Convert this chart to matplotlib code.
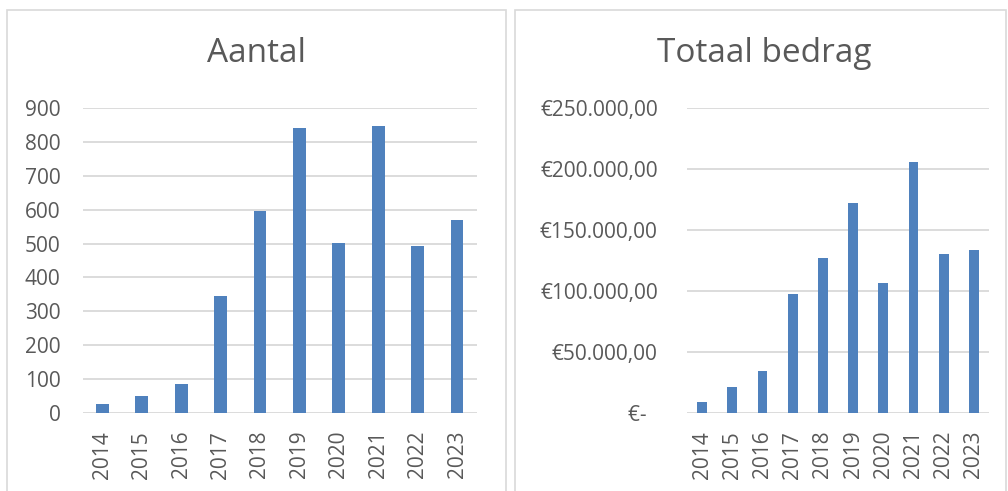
import matplotlib
matplotlib.use("Agg")
import matplotlib.pyplot as plt
from matplotlib.patches import Rectangle
from matplotlib.ticker import FuncFormatter

years = ["2014", "2015", "2016", "2017", "2018", "2019", "2020", "2021", "2022", "2023"]
aantal = [26, 49, 85, 345, 596, 842, 501, 848, 494, 570]
bedrag = [9000, 21100, 34300, 97400, 127200, 172400, 106400, 205900, 130200, 133800]

BLUE = "#4F81BD"
GRID = "#D9D9D9"
TEXT = "#595959"

plt.rcParams['font.family'] = ['Open Sans', 'DejaVu Sans']

W, H = 1008, 491
fig = plt.figure(figsize=(W / 100, H / 100), dpi=100)

def fbox(x0, y0, x1, y1):
    # pixel box -> figure fraction [left, bottom, width, height]
    return [x0 / W, 1 - y1 / H, (x1 - x0) / W, (y1 - y0) / H]

# panel borders
for x0, x1 in [(7, 506), (515, 1006)]:
    fig.patches.append(Rectangle((x0 / W, -0.05), (x1 - x0) / W, 1 - 10 / H + 0.05,
                                 transform=fig.transFigure, fill=False,
                                 edgecolor=GRID, linewidth=1.2))

def euro(v, pos):
    if v == 0:
        return "€-  "
    s = f"{v:,.2f}".replace(",", "X").replace(".", ",").replace("X", ".")
    return "€" + s

def style(ax, ymax, step, pad):
    x = range(len(years))
    ax.set_xlim(-0.5, len(years) - 0.5)
    ax.set_ylim(0, ymax)
    ax.set_yticks(range(0, ymax + 1, step))
    ax.set_xticks(list(x))
    ax.set_xticklabels(years, rotation=90)
    for s in ax.spines.values():
        s.set_visible(False)
    ax.grid(axis="y", color=GRID, linewidth=1.3)
    ax.set_axisbelow(True)
    ax.tick_params(axis="both", length=0, labelcolor=TEXT, labelsize=15)
    ax.tick_params(axis="y", pad=pad)
    ax.tick_params(axis="x", pad=13)

ax1 = fig.add_axes(fbox(82.7, 108.3, 476.7, 412.7))
ax1.bar(range(len(years)), aantal, width=0.32, color=BLUE, zorder=3)
style(ax1, 900, 100, 16)
fig.text(256.5 / W, 1 - 53 / H, "Aantal", ha="center", va="center", fontsize=24, color=TEXT)

ax2 = fig.add_axes(fbox(687, 108.3, 989, 412.7))
ax2.bar(range(len(years)), bedrag, width=0.32, color=BLUE, zorder=3)
style(ax2, 250000, 50000, 21)
ax2.yaxis.set_major_formatter(FuncFormatter(euro))
fig.text(764 / W, 1 - 53 / H, "Totaal bedrag", ha="center", va="center", fontsize=24, color=TEXT)

fig.savefig("out.png", dpi=100)
